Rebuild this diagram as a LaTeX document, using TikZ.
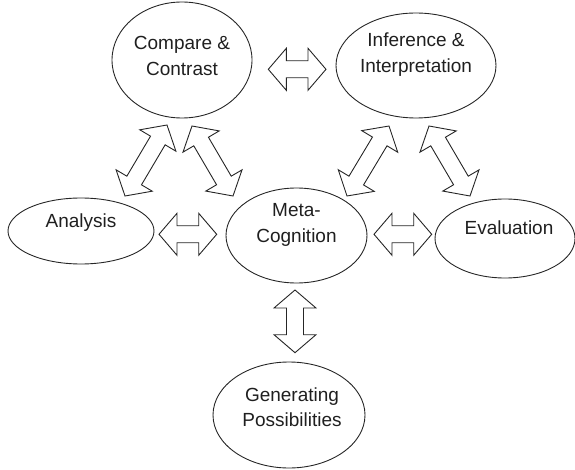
\documentclass[tikz,border=0pt]{standalone}
\usepackage{fontspec}
\setmainfont{Liberation Sans}
\usetikzlibrary{shapes.geometric,calc}

% outline double-headed block arrow between two named tip points
\newcommand\arrHeadLen{18pt}
\newcommand\arrHeadHW{21pt}
\newcommand\arrShaftHW{8.5pt}
\newcommand\dblarrow[2]{%
  \coordinate (ha) at ($(#1)!\arrHeadLen!(#2)$);
  \coordinate (hb) at ($(#2)!\arrHeadLen!(#1)$);
  \draw[blockarrow] (#1)
    -- ($(ha)!\arrHeadHW!90:(#2)$) -- ($(ha)!\arrShaftHW!90:(#2)$)
    -- ($(hb)!\arrShaftHW!-90:(#1)$) -- ($(hb)!\arrHeadHW!-90:(#1)$)
    -- (#2)
    -- ($(hb)!\arrHeadHW!90:(#1)$) -- ($(hb)!\arrShaftHW!90:(#1)$)
    -- ($(ha)!\arrShaftHW!-90:(#2)$) -- ($(ha)!\arrHeadHW!-90:(#2)$)
    -- cycle;}

\begin{document}
\begin{tikzpicture}[x=1pt,y=-1pt,
  bubble/.style={ellipse,draw=black!85,line width=0.9pt,inner sep=0pt},
  lbl/.style={align=center,text=black!88,inner sep=0pt,
    font=\fontsize{19}{25.5}\selectfont},
  blockarrow/.style={draw=black!85,line width=0.9pt,line join=miter,fill=white}]
\useasboundingbox (0,0) rectangle (575,470);

% concept bubbles
\node[bubble,minimum width=140pt,minimum height=116pt] (cmp)  at (182,60)    {};
\node[bubble,minimum width=160pt,minimum height=105pt] (inf)  at (416,65.5)  {};
\node[bubble,minimum width=146pt,minimum height=66pt]  (ana)  at (81,231)    {};
\node[bubble,minimum width=141pt,minimum height=95pt]  (meta) at (296.5,235.5) {};
\node[bubble,minimum width=140pt,minimum height=79pt]  (eva)  at (505,238.5) {};
\node[bubble,minimum width=152pt,minimum height=106pt] (gen)  at (289,415)   {};

% bubble labels
\node[lbl] (cmpT)  at ([yshift=4pt]cmp.center)              {Compare \&\\Contrast};
\node[lbl] (infT)  at ([yshift=10.8pt]inf.center)           {Inference \&\\Interpretation};
\node[lbl] (anaT)  at ([yshift=8.7pt]ana.center)            {Analysis};
\node[lbl] (metaT) at ([yshift=10.5pt]meta.center)          {Meta-\\Cognition};
\node[lbl] (evaT)  at ([xshift=4pt,yshift=10.3pt]eva.center) {Evaluation};
\node[lbl] (genT)  at ([xshift=3pt,yshift=8pt]gen.center)   {Generating\\Possibilities};

% arrow tips
\coordinate (ci1) at (268.3,69.3);  \coordinate (ci2) at (326,69.3);
\coordinate (ca1) at (167,125);     \coordinate (ca2) at (125,196);
\coordinate (cm1) at (192,126);     \coordinate (cm2) at (233,196);
\coordinate (im1) at (389,126);     \coordinate (im2) at (347,196);
\coordinate (ie1) at (429,126);     \coordinate (ie2) at (470,196);
\coordinate (am1) at (159,234.3);   \coordinate (am2) at (216.7,234.3);
\coordinate (me1) at (374,234.3);   \coordinate (me2) at (431.7,234.3);
\coordinate (mg1) at (295,290);     \coordinate (mg2) at (295,352.7);

% two-way links
\dblarrow{ci1}{ci2}
\dblarrow{ca1}{ca2}
\dblarrow{cm1}{cm2}
\dblarrow{im1}{im2}
\dblarrow{ie1}{ie2}
\dblarrow{am1}{am2}
\dblarrow{me1}{me2}
\dblarrow{mg1}{mg2}
\end{tikzpicture}
\end{document}
